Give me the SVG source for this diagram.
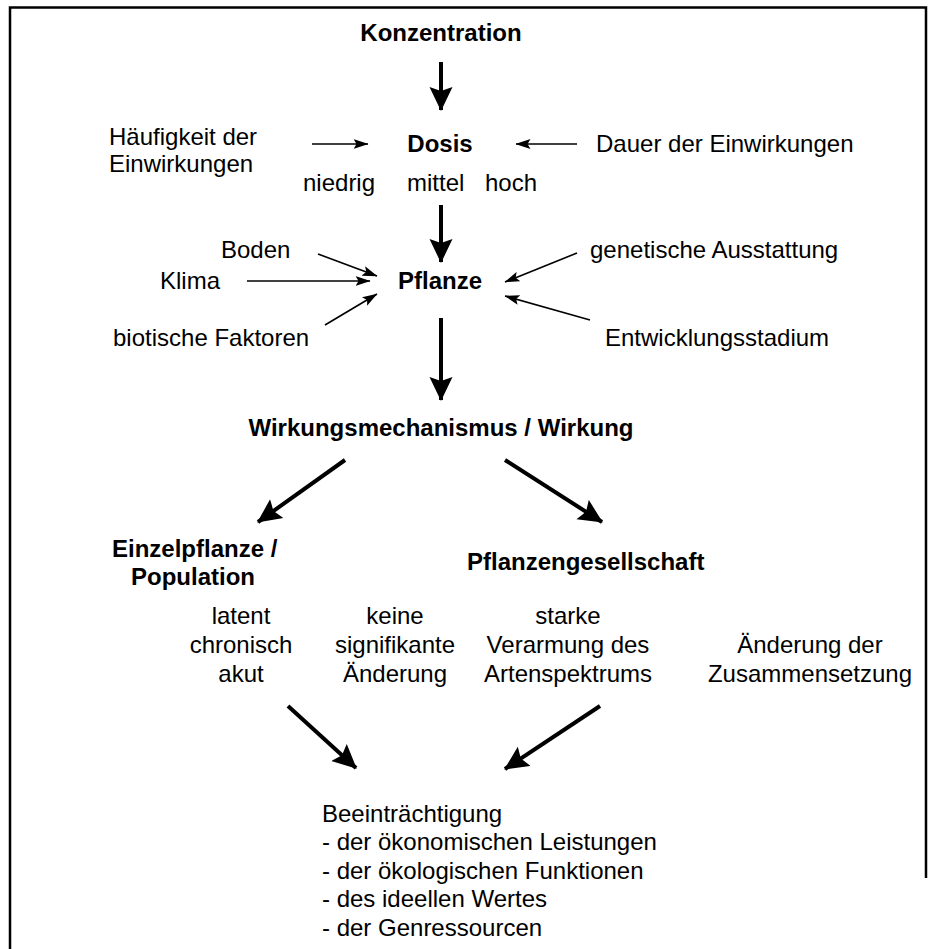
<svg xmlns="http://www.w3.org/2000/svg" width="932" height="949" viewBox="0 0 932 949">
<style>
text{font-family:"Liberation Sans",Arial,sans-serif;font-size:24px;fill:#000}
.b{font-weight:bold}
.m{text-anchor:middle}
.thick{stroke:#000;stroke-width:4;fill:none;marker-end:url(#big)}
.thin{stroke:#000;stroke-width:1.6;fill:none;marker-end:url(#small)}
.frame{stroke:#000;stroke-width:2.5;fill:none}
</style>
<defs>
<marker id="big" viewBox="0 0 24 24" refX="23" refY="12" markerWidth="24" markerHeight="24" markerUnits="userSpaceOnUse" orient="auto">
<path d="M0,0.5 L24,12 L0,23.5 L4,12 z" fill="#000"/>
</marker>
<marker id="small" viewBox="0 0 15 11" refX="14.5" refY="5.5" markerWidth="15" markerHeight="11" markerUnits="userSpaceOnUse" orient="auto">
<path d="M0,0.5 L15,5.5 L0,10.5 L3,5.5 z" fill="#000"/>
</marker>
</defs>
<g id="frame">
<path class="frame" d="M10,949 V7.5 H926 V878"/>
</g>
<g id="connectors">
<line class="thick" x1="441" y1="62" x2="441" y2="110"/>
<line class="thin" x1="312" y1="144" x2="368" y2="144"/>
<line class="thin" x1="577" y1="144" x2="516" y2="144"/>
<line class="thick" x1="441" y1="205" x2="441" y2="262"/>
<line class="thin" x1="318" y1="254" x2="377" y2="276"/>
<line class="thin" x1="577" y1="253" x2="505" y2="282"/>
<line class="thin" x1="247" y1="281" x2="370" y2="281"/>
<line class="thin" x1="325" y1="325" x2="377" y2="294"/>
<line class="thin" x1="590" y1="320" x2="505" y2="296"/>
<line class="thick" x1="441" y1="318" x2="441" y2="400"/>
<line class="thick" x1="345" y1="460" x2="258" y2="522"/>
<line class="thick" x1="505" y1="460" x2="602" y2="522"/>
<line class="thick" x1="288" y1="706" x2="356" y2="768"/>
<line class="thick" x1="600" y1="706" x2="505" y2="769"/>
</g>
<g id="konzentration"><text class="b m" x="441" y="41">Konzentration</text></g>
<g id="haeufigkeit"><text x="109" y="145">Häufigkeit der</text><text x="109" y="172">Einwirkungen</text></g>
<g id="dosis"><text class="b m" x="440" y="152">Dosis</text>
<text x="303" y="191">niedrig</text><text x="407" y="191">mittel</text><text x="485" y="191">hoch</text></g>
<g id="dauer"><text x="596" y="152">Dauer der Einwirkungen</text></g>
<g id="boden"><text x="221" y="258">Boden</text></g>
<g id="genetisch"><text x="590" y="258">genetische Ausstattung</text></g>
<g id="klima"><text x="160" y="289">Klima</text></g>
<g id="pflanze"><text class="b" x="398" y="289">Pflanze</text></g>
<g id="biotisch"><text x="113" y="346">biotische Faktoren</text></g>
<g id="entwicklung"><text x="605" y="346">Entwicklungsstadium</text></g>
<g id="wirkung"><text class="b m" x="441" y="436">Wirkungsmechanismus / Wirkung</text></g>
<g id="einzel"><text class="b" x="112" y="557">Einzelpflanze /</text><text class="b" x="131" y="585">Population</text>
<text class="m" x="241" y="624">latent</text><text class="m" x="241" y="653">chronisch</text><text class="m" x="241" y="682">akut</text></g>
<g id="gesellschaft"><text class="b" x="467" y="570">Pflanzengesellschaft</text>
<text class="m" x="395" y="624">keine</text><text class="m" x="395" y="653">signifikante</text><text class="m" x="395" y="682">Änderung</text>
<text class="m" x="568" y="624">starke</text><text class="m" x="568" y="653">Verarmung des</text><text class="m" x="568" y="682">Artenspektrums</text>
<text class="m" x="810" y="653">Änderung der</text><text class="m" x="810" y="682">Zusammensetzung</text></g>
<g id="beeintraechtigung"><text x="322" y="822">Beeinträchtigung</text>
<text x="322" y="850">- der ökonomischen Leistungen</text>
<text x="322" y="879">- der ökologischen Funktionen</text>
<text x="322" y="907">- des ideellen Wertes</text>
<text x="322" y="936">- der Genressourcen</text></g>
</svg>
